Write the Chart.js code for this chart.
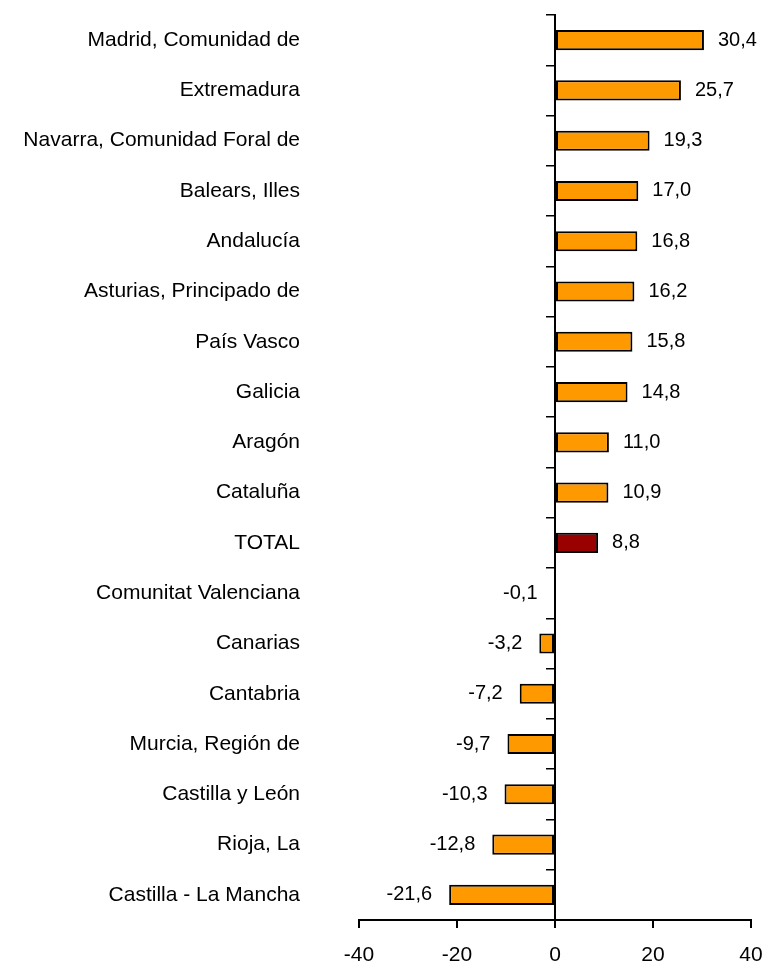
<!DOCTYPE html>
<html>
<head>
<meta charset="utf-8">
<script src="https://cdn.jsdelivr.net/npm/chart.js@4/dist/chart.umd.min.js"></script>
<style>
  html, body { margin: 0; padding: 0; background: #fff; }
  #wrap { width: 765px; height: 963px; }
</style>
</head>
<body>
<div id="wrap"><canvas id="chart" width="765" height="963"></canvas></div>
<script>
// Data
const categories = [
    'Madrid, Comunidad de', 'Extremadura', 'Navarra, Comunidad Foral de', 'Balears, Illes',
    'Andalucía', 'Asturias, Principado de', 'País Vasco', 'Galicia', 'Aragón', 'Cataluña',
    'TOTAL', 'Comunitat Valenciana', 'Canarias', 'Cantabria', 'Murcia, Región de',
    'Castilla y León', 'Rioja, La', 'Castilla - La Mancha'
];
const values = [30.4, 25.7, 19.3, 17.0, 16.8, 16.2, 15.8, 14.8, 11.0, 10.9,
    8.8, -0.1, -3.2, -7.2, -9.7, -10.3, -12.8, -21.6];
const xTicks = [-40, -20, 0, 20, 40];

const barColors = categories.map(c => c === 'TOTAL' ? '#990000' : '#FF9900');

Chart.defaults.font.family = '"Liberation Sans", Arial, sans-serif';
Chart.defaults.font.size = 21;
Chart.defaults.color = '#000';

// value labels next to each bar end
const valueLabels = {
    id: 'valueLabels',
    afterDatasetsDraw(chart) {
        const ctx = chart.ctx;
        const meta = chart.getDatasetMeta(0);
        ctx.save();
        ctx.font = '20px "Liberation Sans", Arial, sans-serif';
        ctx.fillStyle = '#000';
        ctx.textBaseline = 'middle';
        meta.data.forEach((bar, i) => {
            const v = values[i];
            const txt = v.toFixed(1).replace('.', ',');
            if (v >= 0) {
                ctx.textAlign = 'left';
                ctx.fillText(txt, bar.x + 14, bar.y);
            } else {
                ctx.textAlign = 'right';
                ctx.fillText(txt, bar.x - 17, bar.y);
            }
        });
        ctx.restore();
    }
};

new Chart(document.getElementById('chart').getContext('2d'), {
    type: 'bar',
    data: {
        labels: categories,
        datasets: [{
            data: values,
            backgroundColor: barColors,
            borderColor: '#000',
            borderWidth: 2,
            borderSkipped: false,
            barPercentage: 0.4,
            categoryPercentage: 1
        }]
    },
    options: {
        indexAxis: 'y',
        responsive: false,
        animation: false,
        devicePixelRatio: 1,
        layout: { padding: { top: 15, right: 14, bottom: 0, left: 0 } },
        plugins: { legend: { display: false }, tooltip: { enabled: false } },
        scales: {
            x: {
                min: -40,
                max: 40,
                afterBuildTicks: s => { s.ticks = xTicks.map(v => ({ value: v })); },
                afterFit: s => { s.height = 43; s.paddingLeft = 0; s.paddingRight = 0; },
                ticks: { padding: 15, callback: v => v },
                grid: { drawOnChartArea: false, drawTicks: true, tickLength: 8, color: '#000', lineWidth: 2 },
                border: { color: '#000', width: 2 }
            },
            y: {
                offset: true,
                afterFit: s => { s.width = 359; s.paddingTop = 0; s.paddingBottom = 0; },
                ticks: { padding: 59 },
                grid: { display: false, drawTicks: false },
                border: { display: false }
            },
            y2: {
                type: 'category',
                axis: 'y',
                position: { x: 0 },
                offset: true,
                ticks: { display: false },
                grid: { offset: true, drawOnChartArea: false, drawTicks: true, tickLength: 8, color: '#000', lineWidth: 1.5 },
                border: { color: '#000', width: 2 }
            }
        }
    },
    plugins: [valueLabels]
});
</script>
</body>
</html>
